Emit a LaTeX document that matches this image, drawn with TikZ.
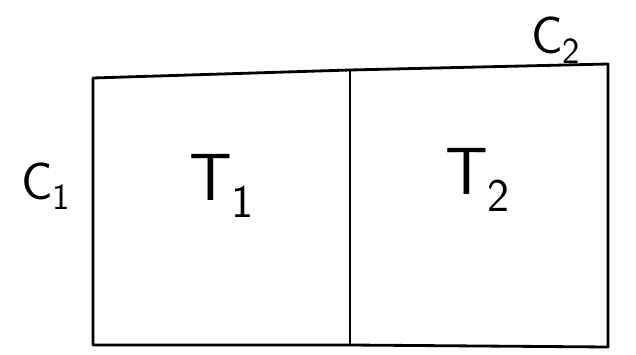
\documentclass[tikz,border=0pt]{standalone}
\usepackage{tikz}
\usetikzlibrary{positioning}

\begin{document}
\begin{tikzpicture}[x=0.02cm, y=-0.02cm,
    edge/.style={draw, line width=1.6pt, line cap=round, line join=round},
    cell/.style={font=\fontsize{38}{40}\selectfont\sffamily},
    side/.style={font=\fontsize{30}{32}\selectfont\sffamily}
]
    \useasboundingbox (0,0) rectangle (636,355);
    % Corners of the two cells
    \coordinate (tl) at (93,78);
    \coordinate (tm) at (350,70);
    \coordinate (tr) at (608,64);
    \coordinate (bl) at (93,345);
    \coordinate (bm) at (350,345);
    \coordinate (br) at (608,347);

    % Outline and divider
    \draw[edge] (tl) -- (tm) -- (tr) -- (br) -- (bm) -- (bl) -- cycle;
    \draw[edge] (tm) -- (bm);

    % Labels
    \node[cell] (t1) at (222,186) {T\textsubscript{1}};
    \node[cell] (t2) at (478,180) {T\textsubscript{2}};
    \node[side] (c1) at (46,186) {C\textsubscript{1}};
    \node[side] (c2) at (556,40) {C\textsubscript{2}};
\end{tikzpicture}
\end{document}
